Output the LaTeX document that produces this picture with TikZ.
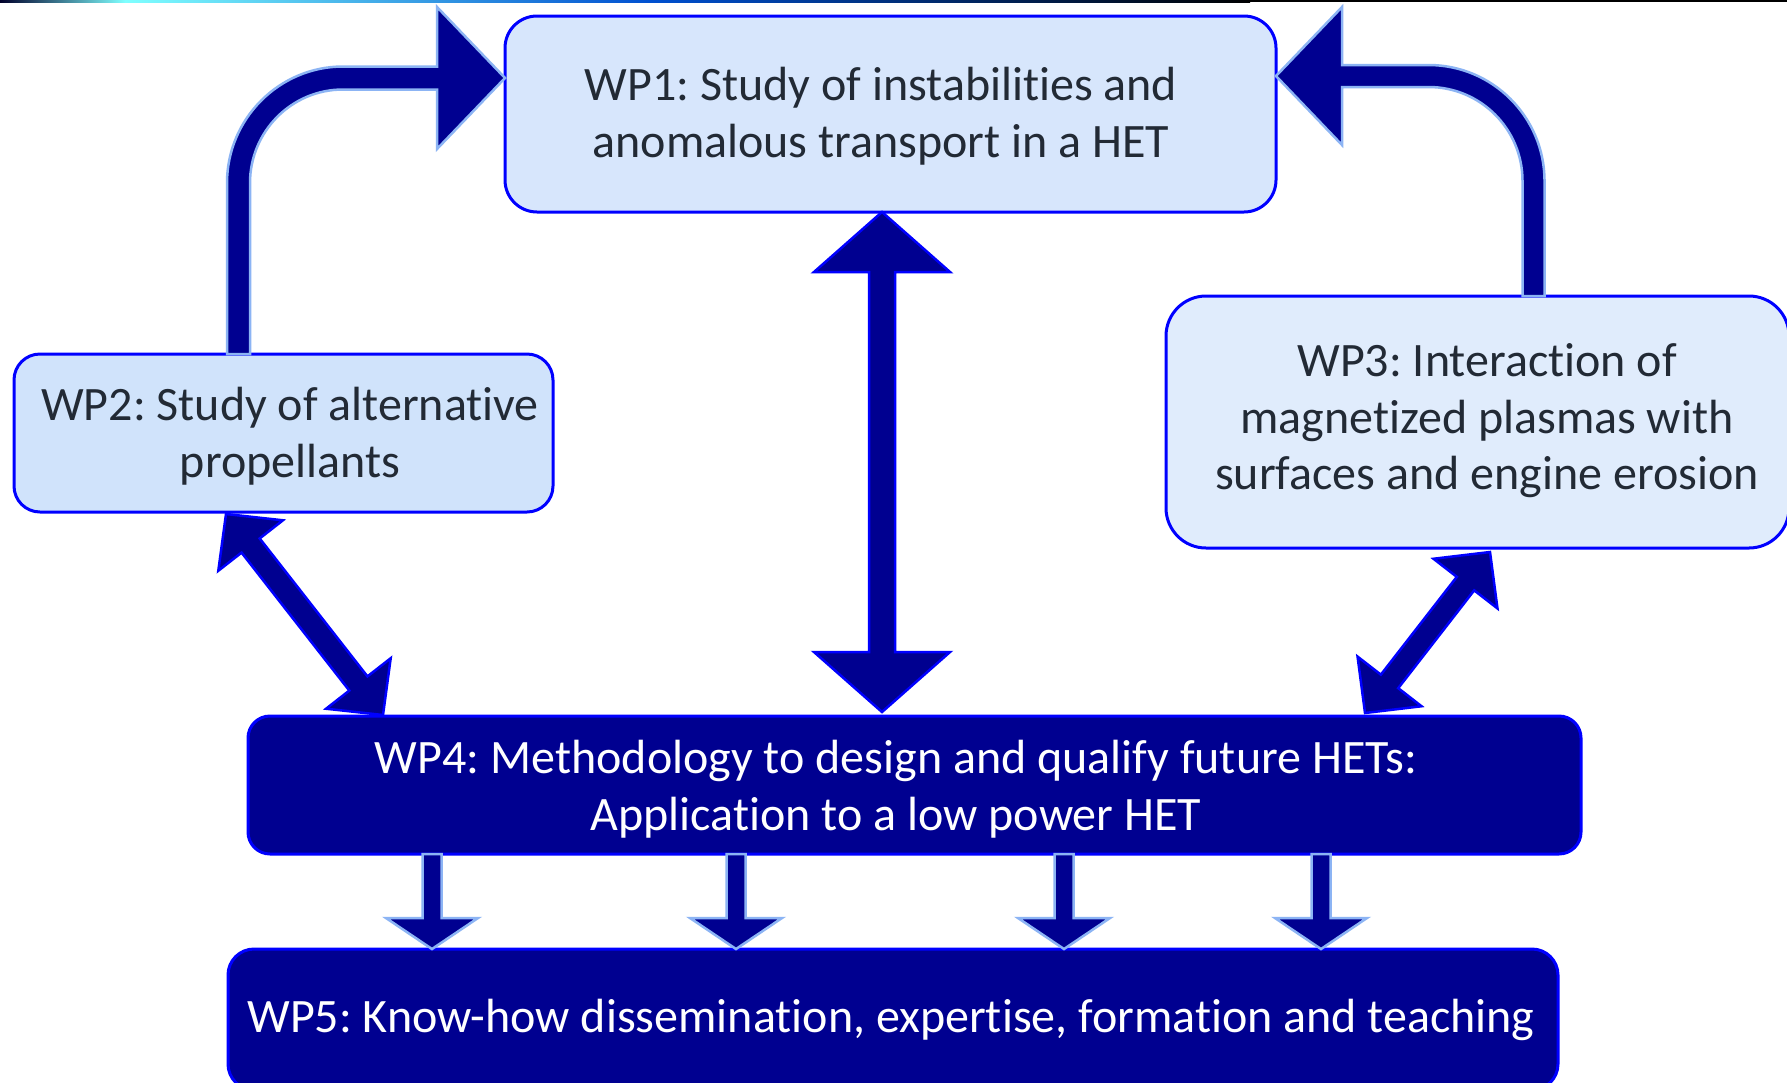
\documentclass[tikz,border=0pt]{standalone}
\usepackage{fontspec}
\setmainfont{Carlito}[Ligatures={NoCommon,NoRequired}]
\usetikzlibrary{calc}
\definecolor{navy}{HTML}{000090}
\definecolor{bord}{HTML}{0000FF}
\definecolor{halo}{HTML}{8CB4F4}
\definecolor{fillA}{HTML}{D7E6FC}
\definecolor{fillB}{HTML}{D0E3FB}
\definecolor{fillC}{HTML}{E0ECFC}
\definecolor{ink}{HTML}{222A35}
\definecolor{topcyan}{HTML}{7FFFFF}
\definecolor{topblue}{HTML}{0050D0}

\newcommand\dblarr[6]{%
  \coordinate (hA) at ($(#1)!#3!(#2)$);
  \coordinate (hB) at ($(#2)!#3!(#1)$);
  \filldraw[#6] (#1) -- ($(hA)!#4!90:(#1)$) -- ($(hA)!#5!90:(#1)$)
    -- ($(hB)!#5!-90:(#2)$) -- ($(hB)!#4!-90:(#2)$) -- (#2)
    -- ($(hB)!#4!90:(#2)$) -- ($(hB)!#5!90:(#2)$)
    -- ($(hA)!#5!-90:(#1)$) -- ($(hA)!#4!-90:(#1)$) -- cycle;}
\newcommand\sglarr[6]{%
  \coordinate (hB) at ($(#2)!#3!(#1)$);
  \filldraw[#6] ($(#1)!#5!90:(#2)$) -- ($(hB)!#5!90:(#2)$) -- ($(hB)!#4!90:(#2)$)
    -- (#2) -- ($(hB)!#4!-90:(#2)$) -- ($(hB)!#5!-90:(#2)$)
    -- ($(#1)!#5!-90:(#2)$) -- cycle;}

\begin{document}
\frenchspacing
\begin{tikzpicture}[x=1pt,y=-1pt,
  box/.style={draw=bord, line width=3pt, rounded corners=#1, outer sep=0pt, inner sep=0pt},
  box/.default=30pt,
  txt/.style={font=\fontsize{48}{56.5}\selectfont, align=center, inner sep=0pt},
  blockA/.style={fill=navy, draw=halo, line width=2.5pt, line join=miter},
  blockB/.style={fill=navy, draw=bord, line width=2.5pt, line join=miter}]
\useasboundingbox (0,0) rectangle (1787,1082);
\fill[white] (0,0) rectangle (1787,1082);

% thin header line
\shade[left color=black!70!navy, right color=topcyan] (0,0) rectangle (125,2);
\shade[left color=topcyan, right color=topblue] (125,0) rectangle (650,2);
\shade[left color=topblue, right color=black] (650,0) rectangle (1250,2);
\fill[black] (1250,0) rectangle (1787,2);

% boxes
\node[box=32pt, fill=fillA, minimum width=771pt, minimum height=196pt] (wp1) at (890.5,114) {};
\node[box=26pt, fill=fillB, minimum width=539pt, minimum height=158pt] (wp2) at (283.5,433) {};
\node[box=40pt, fill=fillC, minimum width=623pt, minimum height=252pt] (wp3) at (1477.5,422) {};
\node[box=22pt, fill=navy, minimum width=1333pt, minimum height=138pt] (wp4) at (914.5,785) {};
\node[box=26pt, fill=navy, minimum width=1330pt, minimum height=141pt] (wp5) at (893,1019.5) {};

% texts
\node[txt, text=ink] (t1) at (881,116) {WP1: Study of instabilities and\\anomalous transport in a HET};
\node[txt, text=ink] (t2) at (290,436) {WP2: Study of alternative\\propellants};
\node[txt, text=ink] (t3) at (1487,421) {WP3: Interaction of\\magnetized plasmas with\\surfaces and engine erosion};
\node[txt, text=white] (t4) at (896,789) {WP4: Methodology to design and qualify future HETs:\\Application to a low power HET};
\node[txt, text=white] (t5) at (891,1020) {WP5: Know-how dissemination, expertise, formation and teaching};

% helper coordinates
\coordinate (xL) at (238.5,0);
\coordinate (yL) at (0,78);
\coordinate (xR) at (1533.5,0);
\coordinate (yR) at (0,76);
\coordinate (xV) at (882,0);
\coordinate (xD1) at (226,0);
\coordinate (xD2) at (383,0);
\coordinate (xE1) at (1490,0);
\coordinate (xE2) at (1365,0);
\coordinate (xa) at (432,0);
\coordinate (xb) at (736,0);
\coordinate (xc) at (1064,0);
\coordinate (xd) at (1321,0);

% curved arrow WP2 -> WP1
\coordinate (S) at (wp2.north -| xL);
\coordinate (T) at (wp1.west |- yL);
\coordinate (C) at (S |- T);
\filldraw[blockA] ($(S)+(-11.5,0)$) -- ($(C)+(-11.5,105)$)
  .. controls ($(C)+(-11.5,41)$) and ($(C)+(40.5,-11.5)$) .. ($(C)+(104.5,-11.5)$)
  -- ($(T)+(-68,-11.5)$) -- ($(T)+(-68,-71)$) -- (T) -- ($(T)+(-68,71)$) -- ($(T)+(-68,11.5)$)
  -- ($(C)+(104.5,11.5)$)
  .. controls ($(C)+(53,11.5)$) and ($(C)+(11.5,53.5)$) .. ($(C)+(11.5,105)$)
  -- ($(S)+(11.5,0)$) -- cycle;

% curved arrow WP3 -> WP1
\coordinate (S2) at (wp3.north -| xR);
\coordinate (T2) at (wp1.east |- yR);
\coordinate (C2) at (S2 |- T2);
\filldraw[blockA] ($(S2)+(11,0)$) -- ($(C2)+(11,105)$)
  .. controls ($(C2)+(11,41)$) and ($(C2)+(-41,-11)$) .. ($(C2)+(-105,-11)$)
  -- ($(T2)+(66,-11)$) -- ($(T2)+(66,-69)$) -- (T2) -- ($(T2)+(66,69)$) -- ($(T2)+(66,11)$)
  -- ($(C2)+(-105,11)$)
  .. controls ($(C2)+(-53,11)$) and ($(C2)+(-11,53)$) .. ($(C2)+(-11,105)$)
  -- ($(S2)+(-11,0)$) -- cycle;

% vertical double arrow WP1 <-> WP4
\coordinate (V1) at (wp1.south -| xV);
\coordinate (V2) at ($(wp4.north -| xV)+(0,-4)$);
\dblarr{V1}{V2}{60pt}{68pt}{13pt}{blockB}

% diagonal WP2 <-> WP4
\coordinate (D1) at ($(wp2.south -| xD1)+(0,2)$);
\coordinate (D2) at ($(wp4.north -| xD2)+(0,-1)$);
\dblarr{D1}{D2}{40pt}{41pt}{11.5pt}{blockB}

% diagonal WP3 <-> WP4
\coordinate (E1) at ($(wp3.south -| xE1)+(0,4)$);
\coordinate (E2) at ($(wp4.north -| xE2)+(0,-3)$);
\dblarr{E1}{E2}{40pt}{40.5pt}{11pt}{blockB}

% down arrows WP4 -> WP5
\foreach \c in {xa,xb,xc,xd}{
  \coordinate (P) at (wp4.south -| \c);
  \coordinate (Q) at (wp5.north -| \c);
  \sglarr{P}{Q}{31pt}{46pt}{9.5pt}{blockA}
}
\end{tikzpicture}
\end{document}
